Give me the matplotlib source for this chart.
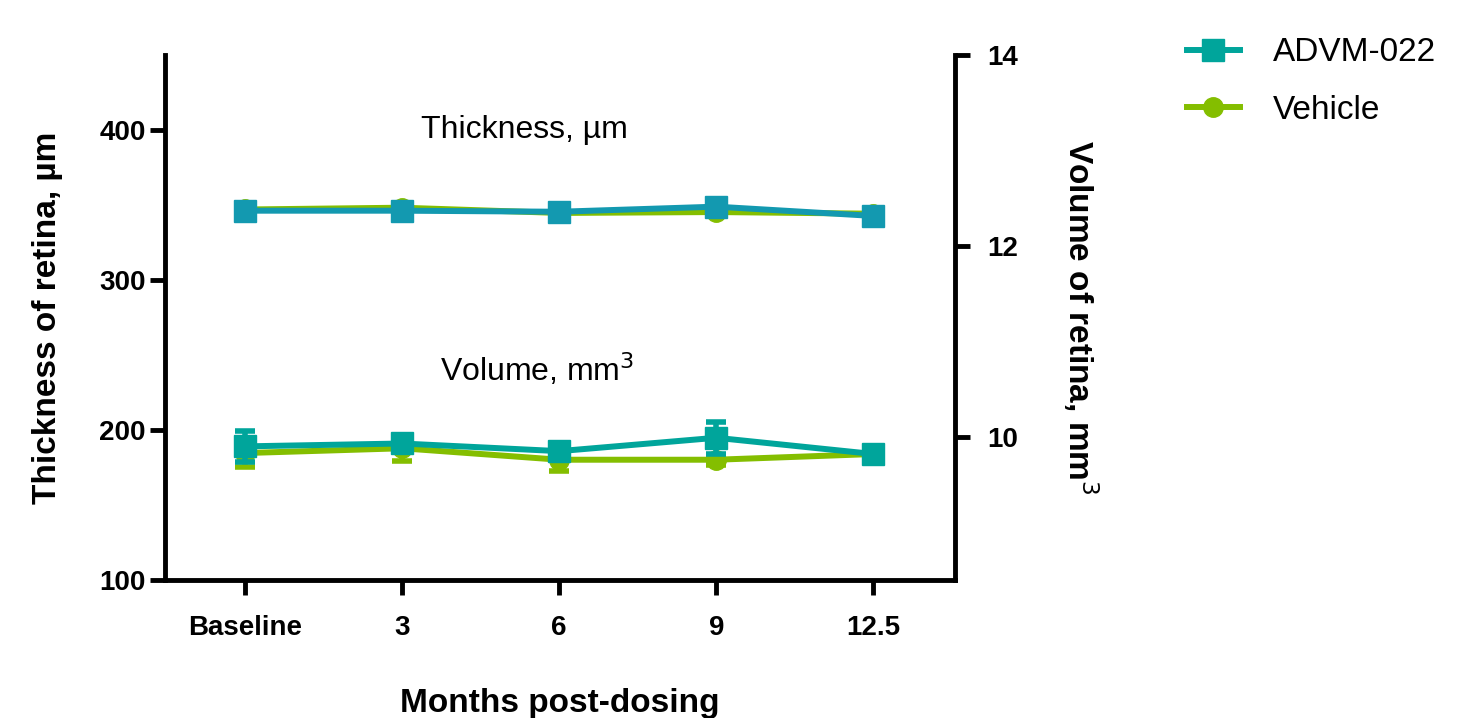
import matplotlib.pyplot as plt
from matplotlib.lines import Line2D

plt.rcParams['font.family'] = ['Liberation Sans', 'DejaVu Sans']

# ---------------------------------------------------------------
# data
# ---------------------------------------------------------------
months = ["Baseline", "3", "6", "9", "12.5"]

thick_advm = [346.2, 346.2, 345.5, 348.9, 342.7]
thick_advm_err = [2.0, 2.0, 2.0, 4.0, 2.0]
thick_veh = [347.0, 348.2, 344.7, 345.3, 344.2]
thick_veh_err = [2.0, 2.0, 2.0, 2.0, 2.0]

vol_advm = [9.90, 9.93, 9.85, 9.99, 9.82]
vol_advm_err = [0.16, 0.08, 0.08, 0.165, 0.07]
vol_veh = [9.83, 9.88, 9.76, 9.76, 9.82]
vol_veh_err = [0.15, 0.13, 0.12, 0.05, 0.05]

c_thick = "#1399B0"
c_vol = "#00A59B"
c_veh = "#84BE00"

# ---------------------------------------------------------------
fig = plt.figure(figsize=(14.66, 7.18), dpi=100)
ax = fig.add_axes([0.1126, 0.1922, 0.5388, 0.7312])
ax2 = ax.twinx()

x = list(range(len(months)))
kw = dict(lw=4.3, elinewidth=4, capthick=4, capsize=7)

# thickness on left axis
ax.errorbar(x, thick_veh, yerr=thick_veh_err, color=c_veh, marker="o",
            ms=14, **kw, zorder=3)
ax.errorbar(x, thick_advm, yerr=thick_advm_err, color=c_thick, marker="s",
            ms=15.5, **kw, zorder=4)

# volume on right axis
ax2.errorbar(x, vol_veh, yerr=vol_veh_err, color=c_veh, marker="o",
             ms=14, **kw, zorder=3)
ax2.errorbar(x, vol_advm, yerr=vol_advm_err, color=c_vol, marker="s",
             ms=15.5, **kw, zorder=4)

ax.set_xlim(-0.51, 4.52)
ax.set_ylim(100, 450)
ax.set_yticks([100, 200, 300, 400])
ax2.set_ylim(8.5, 14)
ax2.set_yticks([10, 12, 14])

ax.set_xticks(x)
ax.set_xticklabels(months)

for a in (ax, ax2):
    a.spines["top"].set_visible(False)
    for s in a.spines.values():
        s.set_linewidth(3.5)
    a.tick_params(width=3.5, length=11, labelsize=20)
    for lab in a.get_xticklabels() + a.get_yticklabels():
        lab.set_fontweight("bold")
ax.tick_params(axis="y", pad=3)
ax.tick_params(axis="x", pad=14)
ax2.tick_params(axis="y", pad=12)
ax.spines["right"].set_visible(False)
ax2.spines["left"].set_visible(False)
ax2.spines["bottom"].set_visible(False)

ax.set_ylabel("Thickness of retina, µm", fontsize=24, fontweight="bold",
              labelpad=26)
ax2.set_ylabel("Volume of retina, mm$^3$", fontsize=24, fontweight="bold",
               rotation=270, labelpad=60)
ax.set_xlabel("Months post-dosing", fontsize=24, fontweight="bold",
              labelpad=34)

ax.text(1.78, 400, "Thickness, µm", fontsize=23, ha="center", va="center")
ax.text(1.86, 240, "Volume, mm$^3$", fontsize=23, ha="center", va="center")

handles = [
    Line2D([], [], color=c_vol, marker="s", ms=15.5, lw=4.3),
    Line2D([], [], color=c_veh, marker="o", ms=14, lw=4.3),
]
fig.legend(handles, ["ADVM-022", "Vehicle"], loc="upper left",
           bbox_to_anchor=(0.789, 0.99), frameon=False, fontsize=24,
           handlelength=1.6, labelspacing=0.8, handletextpad=1.0)

fig.savefig("out.png", dpi=100)
